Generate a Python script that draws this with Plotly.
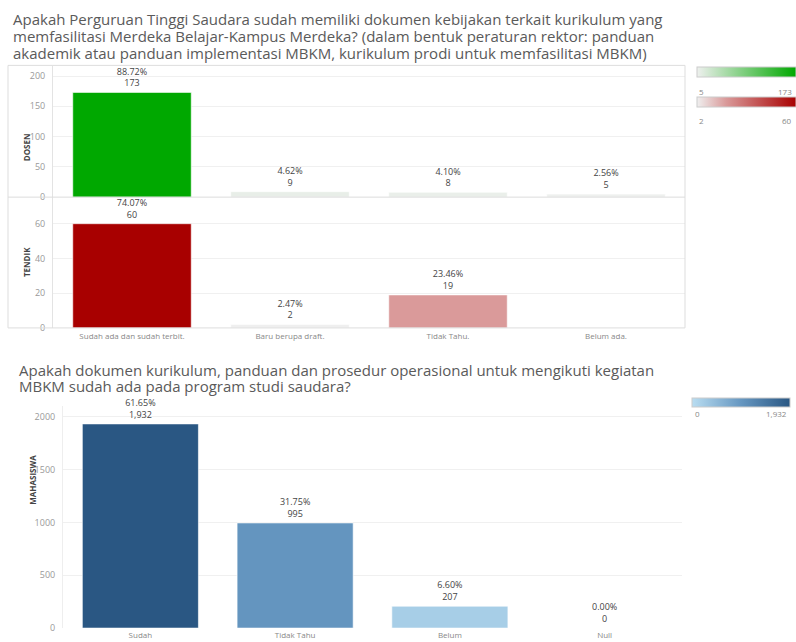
import plotly.graph_objects as go

W, H = 796, 642

# ---- data ----
kategori_pt = ["Sudah ada dan sudah terbit.", "Baru berupa draft.", "Tidak Tahu.", "Belum ada."]
dosen = [173, 9, 8, 5]
dosen_pct = [88.72, 4.62, 4.10, 2.56]
tendik = [60, 2, 19, None]
tendik_pct = [74.07, 2.47, 23.46, None]

kategori_mhs = ["Sudah", "Tidak Tahu", "Belum", "Null"]
mahasiswa = [1932, 995, 207, 0]
mahasiswa_pct = [61.65, 31.75, 6.60, 0.00]

judul_1 = ["Apakah Perguruan Tinggi Saudara sudah memiliki dokumen kebijakan terkait kurikulum yang",
           "memfasilitasi Merdeka Belajar-Kampus Merdeka? (dalam bentuk peraturan rektor: panduan",
           "akademik atau panduan implementasi MBKM, kurikulum prodi untuk memfasilitasi MBKM)"]
judul_2 = ["Apakah dokumen kurikulum, panduan dan prosedur operasional untuk mengikuti kegiatan",
           "MBKM sudah ada pada program studi saudara?"]

FONT = "Open Sans"


def px(x):
    return x / W


def py(y):
    return 1 - y / H


def label(pcts, vals):
    out = []
    for p, v in zip(pcts, vals):
        out.append("" if v is None else f"{p:.2f}%<br>{v:,}")
    return out


fig = go.Figure()

bar_line = dict(width=1, color="rgba(255,255,255,0.6)")
lbl_font = dict(size=9, color="#444")

fig.add_trace(go.Bar(
    x=kategori_pt, y=dosen, xaxis="x", yaxis="y",
    marker=dict(color=dosen, coloraxis="coloraxis", line=bar_line),
    text=label(dosen_pct, dosen), textposition="outside", cliponaxis=False,
    textfont=lbl_font, width=0.75,
))
fig.add_trace(go.Bar(
    x=kategori_pt, y=tendik, xaxis="x2", yaxis="y2",
    marker=dict(color=[v if v is not None else 2 for v in tendik], coloraxis="coloraxis2", line=bar_line),
    text=label(tendik_pct, tendik), textposition="outside", cliponaxis=False,
    textfont=lbl_font, width=0.75,
))
fig.add_trace(go.Bar(
    x=kategori_mhs, y=mahasiswa, xaxis="x3", yaxis="y3",
    marker=dict(color=mahasiswa, coloraxis="coloraxis3", line=bar_line),
    text=label(mahasiswa_pct, mahasiswa), textposition="outside", cliponaxis=False,
    textfont=lbl_font, width=0.75,
))

tick_font = dict(size=9, color="#999", family=FONT)
grid = "#f0f0f0"


def cbar(x0, x1, y0, y1):
    return dict(orientation="h", x=px(x0), xanchor="left", y=py(y0), yanchor="top",
                len=x1 - x0, lenmode="pixels", thickness=y1 - y0, thicknessmode="pixels",
                xpad=0, ypad=0, outlinewidth=1, outlinecolor="#cccccc",
                showticklabels=False, ticks="")


fig.update_layout(
    width=W, height=H, margin=dict(l=0, r=0, t=0, b=0),
    paper_bgcolor="white", plot_bgcolor="white", showlegend=False,
    font=dict(family=FONT, color="#555"),
    xaxis=dict(domain=[px(53), px(685)], anchor="y", showticklabels=False, showgrid=False,
               zeroline=False),
    yaxis=dict(domain=[py(199), py(67)], anchor="x", range=[0, 216], tickvals=[0, 50, 100, 150, 200],
               tickfont=tick_font, gridcolor=grid, zeroline=False, showline=True,
               linecolor="#e3e3e3", ticklabelstandoff=5),
    xaxis2=dict(domain=[px(53), px(685)], anchor="y2", showgrid=False, zeroline=False,
                tickfont=dict(size=8, color="#888", family=FONT), ticklabelstandoff=2),
    yaxis2=dict(domain=[py(331), py(199)], anchor="x2", range=[0, 75.3], tickvals=[0, 20, 40, 60],
                tickfont=tick_font, gridcolor=grid, zeroline=False, showline=True,
                linecolor="#e3e3e3", ticklabelstandoff=5),
    xaxis3=dict(domain=[px(63), px(682)], anchor="y3", showgrid=False, zeroline=False,
                tickfont=dict(size=8, color="#888", family=FONT), ticklabelstandoff=1),
    yaxis3=dict(domain=[py(634), py(410)], anchor="x3", range=[0, 2100],
                tickvals=[0, 500, 1000, 1500, 2000],
                tickfont=tick_font, gridcolor=grid, zeroline=False, showline=True,
                linecolor="#eeeeee", ticklabelstandoff=5),
    coloraxis=dict(cmin=min(dosen), cmax=max(dosen),
                   colorscale=[[0, "#eef0ee"], [1, "#00a800"]],
                   colorbar=cbar(697, 796, 68, 78)),
    coloraxis2=dict(cmin=2, cmax=max(v for v in tendik if v is not None),
                    colorscale=[[0, "#efefef"], [0.3, "#d99898"], [1, "#a80000"]],
                    colorbar=cbar(697, 796, 98, 108)),
    coloraxis3=dict(cmin=0, cmax=max(mahasiswa),
                    colorscale=[[0, "#b9ddf1"], [0.5, "#6697c1"], [1, "#2a5783"]],
                    colorbar=cbar(692, 790, 402, 411)),
)

# frame around top panel
fig.add_shape(type="rect", xref="paper", yref="paper", x0=px(8), x1=px(685), y0=py(331), y1=py(66),
              line=dict(color="#dddddd", width=1))
fig.add_shape(type="line", xref="paper", yref="paper", x0=px(8), x1=px(685), y0=py(199), y1=py(199),
              line=dict(color="#dddddd", width=1))

ann = []
for i, line in enumerate(judul_1):
    ann.append(dict(text=line, x=px(11), y=py(19 + 17 * i), xanchor="left", yanchor="middle",
                    font=dict(size=15, color="#5a5a5a")))
for i, line in enumerate(judul_2):
    ann.append(dict(text=line, x=px(17), y=py(373 + 17 * i), xanchor="left", yanchor="middle",
                    font=dict(size=15, color="#5a5a5a")))
ann += [
    dict(text="<b>DOSEN</b>", x=px(19), y=py(133), textangle=-90,
         font=dict(size=8, color="#444")),
    dict(text="<b>TENDIK</b>", x=px(19), y=py(265), textangle=-90,
         font=dict(size=8, color="#444")),
    dict(text="<b>MAHASISWA</b>", x=px(25), y=py(512), textangle=-90,
         font=dict(size=8, color="#444")),
    # colour legend ends
    dict(text=str(min(dosen)), x=px(697), y=py(85), xanchor="left"),
    dict(text=str(max(dosen)), x=px(794), y=py(85), xanchor="right"),
    dict(text="2", x=px(697), y=py(114), xanchor="left"),
    dict(text=str(max(v for v in tendik if v is not None)), x=px(794), y=py(114), xanchor="right"),
    dict(text="0", x=px(693), y=py(417), xanchor="left"),
    dict(text=f"{max(mahasiswa):,}", x=px(789), y=py(417), xanchor="right"),
]
for a in ann:
    a.setdefault("xref", "paper")
    a.setdefault("yref", "paper")
    a.setdefault("showarrow", False)
    a.setdefault("font", dict(size=8, color="#888"))
    fig.add_annotation(**a)

# drop the browser's default body margin so the figure fills the window
fig.write_html("out.html", config={"displayModeBar": False},
               post_script="document.body.style.margin='0';document.body.style.overflow='hidden';")
